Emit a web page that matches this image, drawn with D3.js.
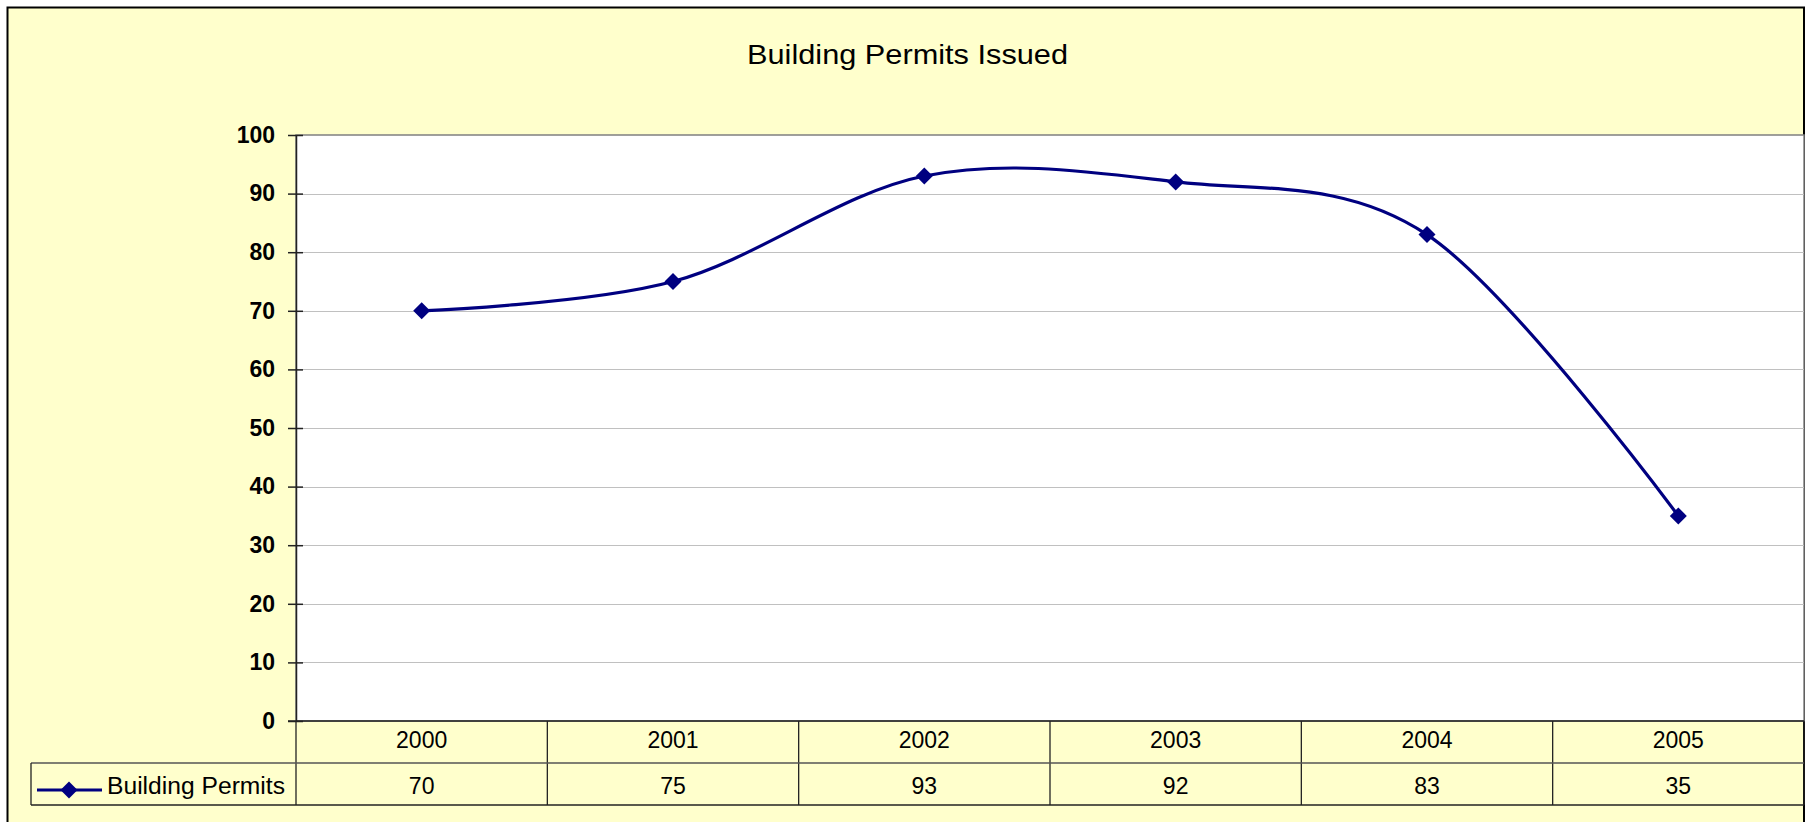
<!DOCTYPE html>
<html>
<head>
<meta charset="utf-8">
<script src="https://cdn.jsdelivr.net/npm/d3@7"></script>
<style>
  html, body { margin: 0; padding: 0; background: #ffffff; }
  svg { display: block; font-family: "Liberation Sans", Arial, sans-serif; }
</style>
</head>
<body>
<svg id="chart" width="1809" height="822"></svg>
<script>
// ---- data ----
const title = "Building Permits Issued";
const seriesName = "Building Permits";
const categories = ["2000", "2001", "2002", "2003", "2004", "2005"];
const values = [70, 75, 93, 92, 83, 35];
const yTicks = [0, 10, 20, 30, 40, 50, 60, 70, 80, 90, 100];

// ---- layout ----
const W = 1809, H = 822;
const plot = { left: 296, right: 1804, top: 135, bottom: 721 };
const rowH = 42;
const legendLeft = 31;
const navy = "#000080";

const svg = d3.select("#chart");

// chart background (outer frame)
svg.append("rect")
  .attr("x", 7.5).attr("y", 7.5)
  .attr("width", plot.right - 7.5).attr("height", H + 10)
  .attr("fill", "#FFFFCC")
  .attr("stroke", "#000").attr("stroke-width", 2);

// title
svg.append("text")
  .attr("x", 747).attr("y", 64)
  .attr("font-size", 28)
  .attr("textLength", 321)
  .attr("lengthAdjust", "spacingAndGlyphs")
  .attr("fill", "#000")
  .text(title);

const x = d3.scaleBand().domain(categories).range([plot.left, plot.right]).padding(0);
const y = d3.scaleLinear().domain([0, 100]).range([plot.bottom, plot.top]);

// plot area
svg.append("rect")
  .attr("x", plot.left).attr("y", plot.top)
  .attr("width", plot.right - plot.left).attr("height", plot.bottom - plot.top)
  .attr("fill", "#ffffff")
  .attr("stroke", "#808080").attr("stroke-width", 1.5);

// gridlines
svg.append("g")
  .selectAll("line")
  .data(yTicks.filter(t => t > 0 && t < 100))
  .join("line")
  .attr("x1", plot.left).attr("x2", plot.right)
  .attr("y1", d => Math.round(y(d)) + 0.5).attr("y2", d => Math.round(y(d)) + 0.5)
  .attr("stroke", "#c0c0c0").attr("stroke-width", 1.2);

// y axis
const yAxis = d3.axisLeft(y).tickValues(yTicks).tickSizeInner(8).tickSizeOuter(0).tickPadding(13);
const gy = svg.append("g")
  .attr("transform", `translate(${plot.left},0)`)
  .call(yAxis);
gy.select(".domain").attr("stroke", "#222").attr("stroke-width", 1.5);
gy.selectAll(".tick line").attr("stroke", "#222").attr("stroke-width", 1.5)
  .attr("x2", -8).attr("x1", 7);
gy.selectAll(".tick text")
  .attr("font-size", 23).attr("font-weight", "bold").attr("fill", "#000")
  .attr("font-family", "\"Liberation Sans\", Arial, sans-serif");

// ---- data table under the plot ----
const tbl = svg.append("g");
const bounds = categories.map(c => x(c)).concat([plot.right]);
tbl.selectAll("line.vsep")
  .data(bounds)
  .join("line")
  .attr("class", "vsep")
  .attr("x1", d => d).attr("x2", d => d)
  .attr("y1", plot.bottom).attr("y2", plot.bottom + 2 * rowH)
  .attr("stroke", "#222").attr("stroke-width", 1.3);
tbl.append("line")
  .attr("x1", legendLeft).attr("x2", plot.right)
  .attr("y1", plot.bottom + rowH).attr("y2", plot.bottom + rowH)
  .attr("stroke", "#555").attr("stroke-width", 1.5);
tbl.append("line")
  .attr("x1", legendLeft).attr("x2", plot.right)
  .attr("y1", plot.bottom + 2 * rowH).attr("y2", plot.bottom + 2 * rowH)
  .attr("stroke", "#222").attr("stroke-width", 1.3);
tbl.append("line")
  .attr("x1", legendLeft).attr("x2", legendLeft)
  .attr("y1", plot.bottom + rowH).attr("y2", plot.bottom + 2 * rowH)
  .attr("stroke", "#222").attr("stroke-width", 1.3);
tbl.append("line")
  .attr("x1", plot.left - 8).attr("x2", plot.right)
  .attr("y1", plot.bottom).attr("y2", plot.bottom)
  .attr("stroke", "#222").attr("stroke-width", 1.5);

// category labels
tbl.selectAll("text.cat")
  .data(categories)
  .join("text")
  .attr("class", "cat")
  .attr("x", d => x(d) + x.bandwidth() / 2)
  .attr("y", plot.bottom + 27)
  .attr("text-anchor", "middle")
  .attr("font-size", 23)
  .attr("fill", "#000")
  .text(d => d);

// value labels
tbl.selectAll("text.val")
  .data(values)
  .join("text")
  .attr("class", "val")
  .attr("x", (d, i) => x(categories[i]) + x.bandwidth() / 2)
  .attr("y", plot.bottom + rowH + 31)
  .attr("text-anchor", "middle")
  .attr("font-size", 23)
  .attr("fill", "#000")
  .text(d => d);

// legend key
const diamond = "M0,-8.5L8.5,0L0,8.5L-8.5,0Z";
const legY = plot.bottom + rowH + 27;
tbl.append("line")
  .attr("x1", 37).attr("x2", 102)
  .attr("y1", legY).attr("y2", legY)
  .attr("stroke", navy).attr("stroke-width", 3);
tbl.append("path")
  .attr("d", diamond)
  .attr("transform", `translate(69,${legY})`)
  .attr("fill", navy);
tbl.append("text")
  .attr("x", 107).attr("y", plot.bottom + rowH + 31)
  .attr("font-size", 23.5)
  .attr("textLength", 178)
  .attr("lengthAdjust", "spacingAndGlyphs")
  .attr("fill", "#000")
  .text(seriesName);

// ---- series ----
const pts = values.map((v, i) => [x(categories[i]) + x.bandwidth() / 2, y(v)]);
const line = d3.line().curve(d3.curveCardinal.tension(0));
svg.append("path")
  .attr("d", line(pts))
  .attr("fill", "none")
  .attr("stroke", navy)
  .attr("stroke-width", 3.2)
  .attr("stroke-linejoin", "round");

svg.append("g")
  .selectAll("path")
  .data(pts)
  .join("path")
  .attr("d", diamond)
  .attr("transform", d => `translate(${d[0]},${d[1]})`)
  .attr("fill", navy);
</script>
</body>
</html>
